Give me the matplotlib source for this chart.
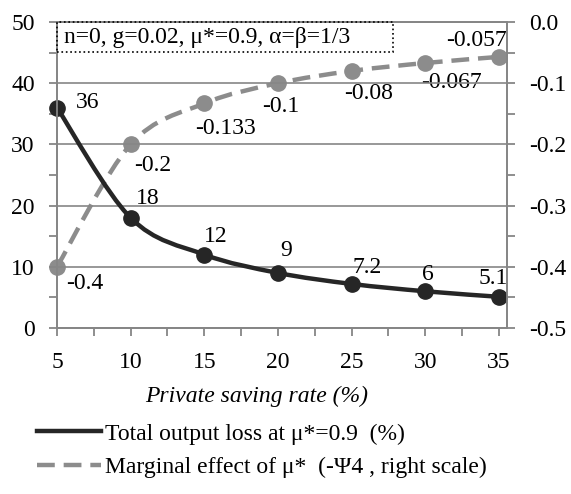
import matplotlib
matplotlib.use("Agg")
import matplotlib.pyplot as plt
from matplotlib.path import Path
from matplotlib.patches import PathPatch, Rectangle
from matplotlib.lines import Line2D
from matplotlib.ticker import MultipleLocator, FormatStrFormatter


# ==============================
# DATA
# ==============================

saving_rate = [5, 10, 15, 20, 25, 30, 35]
output_loss = [36, 18, 12, 9, 7.2, 6, 5.1]
marginal_effect = [-0.4, -0.2, -0.133, -0.1, -0.08, -0.067, -0.057]

loss_labels = ["36", "18", "12", "9", "7.2", "6", "5.1"]
effect_labels = ["-0.4", "-0.2", "-0.133", "-0.1", "-0.08", "-0.067", "-0.057"]

box_text = "n=0, g=0.02, \u03bc*=0.9, \u03b1=\u03b2=1/3"
xlabel = "Private saving rate (%)"
legend_labels = ["Total output loss at \u03bc*=0.9  (%)",
                 "Marginal effect of \u03bc*  (-\u03a84 , right scale)"]


# ==============================
# STYLE
# ==============================

plt.rcParams["font.family"] = ["Liberation Serif", "DejaVu Serif"]
FS = 17
BLACK = "#262626"
GREY = "#8c8c8c"
AXIS = "#868686"

# label offsets in points (dx, dy), Excel-like placement
loss_offsets = [(22, 4), (12, 14), (8, 13), (6, 16), (11, 12), (2, 12), (-4, 13)]
effect_offsets = [(20, -12), (16, -15), (15, -18), (2, -17), (12, -16), (19, -14), (-16, 12)]


def smooth_path(xs, ys):
    # bezier curve through the points (like Excel's smoothed line)
    pts = list(zip(xs, ys))
    verts = [pts[0]]
    codes = [Path.MOVETO]
    n = len(pts)
    for i in range(n - 1):
        p0 = pts[i - 1] if i > 0 else pts[i]
        p1 = pts[i]
        p2 = pts[i + 1]
        p3 = pts[i + 2] if i + 2 < n else pts[i + 1]
        c1 = (p1[0] + (p2[0] - p0[0]) / 6, p1[1] + (p2[1] - p0[1]) / 6)
        c2 = (p2[0] - (p3[0] - p1[0]) / 6, p2[1] - (p3[1] - p1[1]) / 6)
        verts += [c1, c2, p2]
        codes += [Path.CURVE4] * 3
    return Path(verts, codes)


# ==============================
# FIGURE
# ==============================

fig = plt.figure(figsize=(5.71, 4.94), dpi=100)
ax = fig.add_axes([57 / 571, 1 - 328 / 494, 450 / 571, 306 / 494])
ax2 = ax.twinx()

ax.set_xlim(5, 35.55)
ax.set_ylim(0, 50)
ax2.set_ylim(-0.5, 0.0)

ax.set_zorder(2)
ax.patch.set_visible(False)

# gridlines
ax.yaxis.grid(True, color=AXIS, linewidth=1.2)
ax.set_axisbelow(True)

for a in (ax, ax2):
    for s in a.spines.values():
        s.set_color(AXIS)
        s.set_linewidth(1.3)

ax.xaxis.set_major_locator(MultipleLocator(5))
ax.xaxis.set_minor_locator(MultipleLocator(2.5))
ax.yaxis.set_major_locator(MultipleLocator(10))
ax.yaxis.set_minor_locator(MultipleLocator(5))
ax2.yaxis.set_major_locator(MultipleLocator(0.1))
ax2.yaxis.set_minor_locator(MultipleLocator(0.05))
ax2.yaxis.set_major_formatter(FormatStrFormatter("%.1f"))

ax.tick_params(axis="both", which="both", direction="out", length=6,
               width=1.3, color=AXIS, labelsize=FS)
ax.tick_params(axis="y", pad=10)
ax.tick_params(axis="x", pad=11)
ax2.tick_params(axis="y", which="both", direction="out", length=6,
                width=1.3, color=AXIS, labelsize=FS, pad=10)

# grey dashed series (right scale)
ax2.add_patch(PathPatch(smooth_path(saving_rate, marginal_effect), fill=False,
                        edgecolor=GREY, linewidth=3.2, linestyle=(0, (4, 2)),
                        capstyle="butt"))
ax2.plot(saving_rate, marginal_effect, "o", color=GREY, markersize=11,
         clip_on=False)
for x, y, t, off in zip(saving_rate, marginal_effect, effect_labels, effect_offsets):
    ax2.annotate(t, (x, y), xytext=off, textcoords="offset points",
                 ha="center", va="center", fontsize=FS)

# black solid series (left scale)
ax.add_patch(PathPatch(smooth_path(saving_rate, output_loss), fill=False,
                       edgecolor=BLACK, linewidth=3.2, capstyle="round"))
ax.plot(saving_rate, output_loss, "o", color=BLACK, markersize=11,
        clip_on=False)
for x, y, t, off in zip(saving_rate, output_loss, loss_labels, loss_offsets):
    ax.annotate(t, (x, y), xytext=off, textcoords="offset points",
                ha="center", va="center", fontsize=FS)

# parameter box
ax.add_patch(Rectangle((0, 1 - 30 / 306), 336 / 450, 30 / 306,
                       transform=ax.transAxes, fill=False, edgecolor="black",
                       linestyle=":", linewidth=1.2, clip_on=False, zorder=5))
ax.text(7 / 450, 1 - 15 / 306, box_text, transform=ax.transAxes,
        ha="left", va="center", fontsize=FS, zorder=6)

fig.text(257 / 571, 1 - 396 / 494, xlabel, ha="center", va="center",
         fontsize=FS, style="italic")

handles = [Line2D([], [], color=BLACK, linewidth=3.2),
           Line2D([], [], color=GREY, linewidth=3.2, linestyle=(0, (4, 2)))]
fig.legend(handles, legend_labels, loc="upper left",
           bbox_to_anchor=(37 / 571, 1 - 423 / 494), frameon=False,
           fontsize=FS, handlelength=2.7, handletextpad=0.2,
           labelspacing=0.5, borderaxespad=0, borderpad=0)

fig.savefig("out.png", dpi=100)
